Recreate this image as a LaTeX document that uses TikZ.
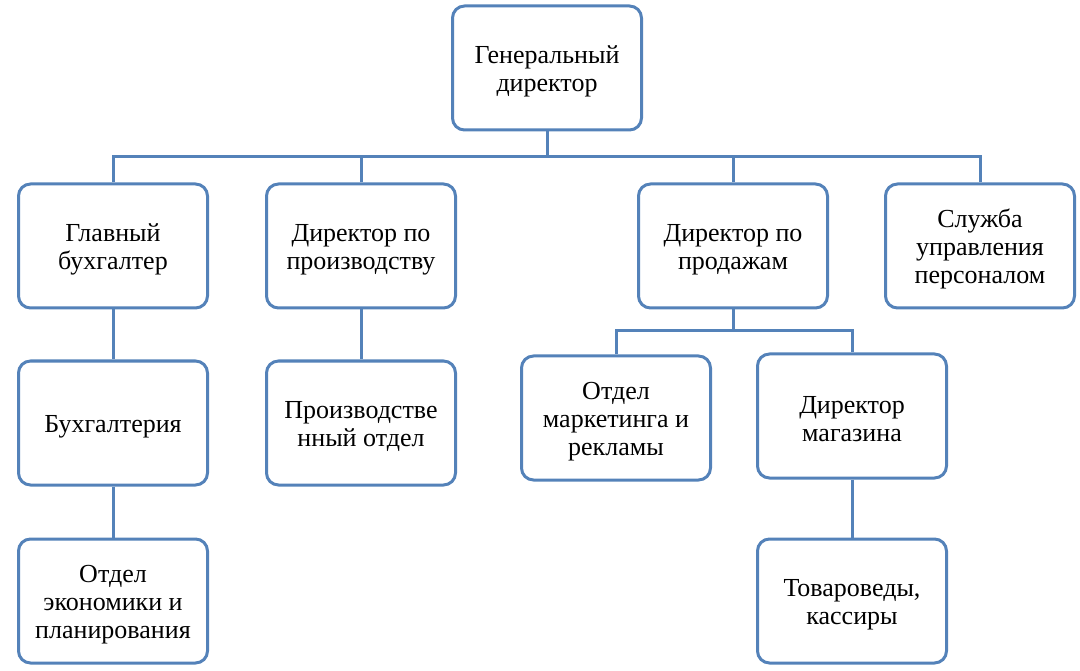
\documentclass[tikz,border=0pt]{standalone}
\usepackage{fontspec}
\setmainfont{Liberation Serif}
\definecolor{boxblue}{RGB}{84,130,185}
\newcommand\toprule{\rule{0pt}{24pt}}
\tikzset{
  orgbox/.style={draw=boxblue, line width=3pt, rounded corners=12pt, fill=white,
    minimum width=189pt, minimum height=124pt, align=center, inner sep=4pt,
    font=\fontsize{26}{28}\selectfont, text=black},
  conn/.style={draw=boxblue, line width=3pt}
}
\begin{document}
\begin{tikzpicture}[x=1pt,y=-1pt]
\useasboundingbox (0,0) rectangle (1080,671);
\node[orgbox] (gd)  at (547,68)  {\toprule Генеральный\\директор};
\node[orgbox] (gb)  at (113,246) {\toprule Главный\\бухгалтер};
\node[orgbox] (dp)  at (361,246) {\toprule Директор по\\производству};
\node[orgbox] (dpr) at (733,246) {\toprule Директор по\\продажам};
\node[orgbox] (su)  at (980,246) {\toprule Служба\\управления\\персоналом};
\node[orgbox] (bh)  at (113,423) {\toprule Бухгалтерия};
\node[orgbox] (po)  at (361,423) {\toprule Производстве\\нный отдел};
\node[orgbox] (om)  at (616,418) {\toprule Отдел\\маркетинга и\\рекламы};
\node[orgbox] (dm)  at (852,416) {\toprule Директор\\магазина};
\node[orgbox] (oep) at (113,601) {\toprule Отдел\\экономики и\\планирования};
\node[orgbox] (tk)  at (852,601) {\toprule Товароведы,\\кассиры};
\coordinate (bus) at (547,157);
\coordinate (bus2) at (733,331);
\draw[conn] (gd.south) -- (bus);
\draw[conn] (gb.north) -- (gb.north |- bus) -- (su.north |- bus) -- (su.north);
\draw[conn] (dp.north) -- (dp.north |- bus);
\draw[conn] (dpr.north) -- (dpr.north |- bus);
\draw[conn] (dpr.south) -- (bus2);
\draw[conn] (om.north) -- (om.north |- bus2) -- (dm.north |- bus2) -- (dm.north);
\draw[conn] (gb.south) -- (bh.north);
\draw[conn] (bh.south) -- (oep.north);
\draw[conn] (dp.south) -- (po.north);
\draw[conn] (dm.south) -- (tk.north);
\end{tikzpicture}
\end{document}
